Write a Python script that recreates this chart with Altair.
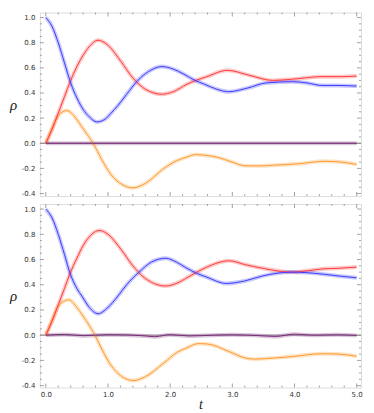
import altair as alt
import pandas as pd
import numpy as np

# ---------------- data ----------------
# top panel
top_blue_t = [0, 0.1, 0.2, 0.3, 0.4, 0.5, 0.6, 0.7, 0.82, 0.95, 1.05, 1.16, 1.3, 1.48, 1.65, 1.87, 2.05, 2.22, 2.4, 2.55, 2.75, 2.94, 3.25, 3.54, 3.97, 4.2, 4.44, 4.7, 5.0]
top_blue_v = [1.0, 0.93, 0.80, 0.64, 0.48, 0.36, 0.27, 0.21, 0.17, 0.19, 0.24, 0.30, 0.39, 0.50, 0.57, 0.61, 0.59, 0.55, 0.50, 0.47, 0.43, 0.41, 0.44, 0.48, 0.49, 0.48, 0.46, 0.46, 0.455]
top_red_t = [0, 0.1, 0.2, 0.3, 0.4, 0.5, 0.6, 0.7, 0.84, 1.0, 1.21, 1.4, 1.6, 1.87, 2.05, 2.27, 2.59, 2.92, 3.28, 3.65, 3.97, 4.44, 4.75, 5.0]
top_red_v = [0, 0.11, 0.24, 0.37, 0.50, 0.61, 0.70, 0.77, 0.82, 0.78, 0.65, 0.52, 0.43, 0.39, 0.41, 0.47, 0.53, 0.58, 0.54, 0.50, 0.51, 0.53, 0.53, 0.535]
top_orange_t = [0, 0.1, 0.2, 0.34, 0.45, 0.58, 0.76, 0.9, 1.05, 1.2, 1.4, 1.6, 1.9, 2.1, 2.27, 2.41, 2.55, 2.75, 3.0, 3.22, 3.45, 3.65, 4.07, 4.49, 4.75, 5.0]
top_orange_v = [0, 0.12, 0.22, 0.26, 0.22, 0.13, 0.0, -0.13, -0.25, -0.32, -0.355, -0.32, -0.20, -0.14, -0.11, -0.09, -0.095, -0.11, -0.15, -0.18, -0.18, -0.175, -0.163, -0.143, -0.15, -0.168]
top_purple_t = [0, 5.0]
top_purple_v = [0, 0]

# bottom panel
bot_blue_t = [0, 0.1, 0.2, 0.3, 0.39, 0.5, 0.58, 0.7, 0.84, 1.0, 1.16, 1.3, 1.5, 1.7, 1.93, 2.1, 2.27, 2.43, 2.59, 2.9, 3.2, 3.49, 3.96, 4.44, 4.7, 5.0]
bot_blue_v = [1.0, 0.93, 0.80, 0.64, 0.49, 0.37, 0.31, 0.22, 0.17, 0.22, 0.31, 0.40, 0.50, 0.58, 0.61, 0.58, 0.53, 0.49, 0.46, 0.41, 0.43, 0.47, 0.50, 0.485, 0.47, 0.455]
bot_red_t = [0, 0.1, 0.2, 0.3, 0.39, 0.5, 0.6, 0.7, 0.86, 1.0, 1.21, 1.4, 1.6, 1.93, 2.1, 2.27, 2.43, 2.59, 2.95, 3.2, 3.49, 3.96, 4.2, 4.44, 4.7, 5.0]
bot_red_v = [0, 0.11, 0.24, 0.37, 0.49, 0.61, 0.71, 0.78, 0.83, 0.80, 0.68, 0.55, 0.45, 0.39, 0.41, 0.455, 0.50, 0.54, 0.59, 0.56, 0.53, 0.50, 0.51, 0.525, 0.53, 0.54]
bot_orange_t = [0, 0.1, 0.2, 0.37, 0.5, 0.6, 0.79, 0.9, 1.05, 1.2, 1.41, 1.6, 1.9, 2.1, 2.27, 2.45, 2.6, 2.95, 3.2, 3.38, 3.7, 3.96, 4.44, 4.7, 5.0]
bot_orange_v = [0, 0.12, 0.23, 0.28, 0.22, 0.15, 0.0, -0.11, -0.24, -0.32, -0.36, -0.33, -0.22, -0.14, -0.10, -0.067, -0.07, -0.13, -0.18, -0.19, -0.18, -0.17, -0.147, -0.15, -0.167]
bot_purple_t = [0, 0.3, 0.6, 1.0, 1.3, 1.6, 1.75, 2.0, 2.3, 2.7, 3.0, 3.4, 3.7, 4.0, 4.3, 4.7, 5.0]
bot_purple_v = [0, 0.006, -0.004, 0.004, 0.002, -0.006, -0.012, 0.004, -0.006, 0.0, 0.003, -0.003, -0.01, 0.008, 0.0, 0.003, -0.002]

# ticks
x_major = [0, 1, 2, 3, 4, 5]
x_minor = [0.2, 0.4, 0.6, 0.8, 1.2, 1.4, 1.6, 1.8, 2.2, 2.4, 2.6, 2.8, 3.2, 3.4, 3.6, 3.8, 4.2, 4.4, 4.6, 4.8]
y_major = [-0.4, -0.2, 0.0, 0.2, 0.4, 0.6, 0.8, 1.0]
y_minor = [round(v, 2) for v in np.arange(-0.4, 1.0001, 0.05) if round(v, 2) not in y_major]

series_order = ["orange", "red", "blue", "purple"]
line_colors = ["#ff9a30", "#ff3a3a", "#3a3aff", "#7a2a7a"]

W = 322
H = 184
GRAY = "#8a8a8a"
LABEL_EXPR = "datum.value < 0 ? '-' + format(-datum.value, '.1f') : format(datum.value, '.1f')"


def make_df(parts):
    rows = []
    for name, ts, vs in parts:
        for t, v in zip(ts, vs):
            rows.append({"t": t, "v": v, "s": name})
    return pd.DataFrame(rows)


def panel(df, ydom, show_x):
    xs = alt.Scale(domain=[-0.095, 5.07], nice=False, zero=False)
    ys = alt.Scale(domain=ydom, nice=False, zero=False)
    color = alt.Color("s:N", scale=alt.Scale(domain=series_order, range=line_colors), legend=None)

    if show_x:
        xaxis = alt.Axis(values=x_major, labelExpr=LABEL_EXPR, ticks=False, domain=False, grid=False,
                         labelFontSize=7, labelColor="#333", labelFont="DejaVu Sans", labelPadding=3,
                         title="t", titleFont="Liberation Serif", titleFontStyle="italic",
                         titleFontWeight="normal", titleFontSize=14, titlePadding=0, titleColor="#222")
    else:
        xaxis = alt.Axis(values=x_major, labels=False, ticks=False, domain=False, grid=False, title=None)
    yaxis = alt.Axis(values=y_major, labelExpr=LABEL_EXPR, ticks=False, domain=False, grid=False,
                     labelFontSize=7, labelColor="#333", labelFont="DejaVu Sans", labelPadding=5,
                     title="ρ", titleAngle=0, titleX=-27, titleY=H / 2, titleAlign="center",
                     titleBaseline="middle", titleFont="Liberation Serif", titleFontStyle="italic",
                     titleFontWeight="normal", titleFontSize=15, titleColor="#222")

    X = lambda: alt.X("t:Q", scale=xs, axis=xaxis)
    Y = lambda: alt.Y("v:Q", scale=ys, axis=yaxis)

    base = alt.Chart(df)
    band = base.mark_line(strokeWidth=4, opacity=0.28, interpolate="monotone").encode(
        x=X(), y=Y(), color=color, order=alt.Order("t:Q"))
    line = base.mark_line(strokeWidth=1, interpolate="monotone").encode(
        x=X(), y=Y(), color=color, order=alt.Order("t:Q"))

    zero = alt.Chart(pd.DataFrame({"v": [0.0]})).mark_rule(color=GRAY, strokeWidth=1).encode(y=Y())

    layers = [zero]
    for vals, ln in [(y_major, 4), (y_minor, 2)]:
        d = alt.Chart(pd.DataFrame({"v": vals}))
        layers.append(d.mark_rule(color=GRAY, strokeWidth=0.8).encode(
            y=Y(), x=alt.value(0), x2=alt.value(ln)))
        layers.append(d.mark_rule(color=GRAY, strokeWidth=0.8).encode(
            y=Y(), x=alt.value(W), x2=alt.value(W - ln)))
    for vals, ln in [(x_major, 4), (x_minor, 2)]:
        d = alt.Chart(pd.DataFrame({"t": vals}))
        layers.append(d.mark_rule(color=GRAY, strokeWidth=0.8).encode(
            x=X(), y=alt.value(H), y2=alt.value(H - ln)))
        layers.append(d.mark_rule(color=GRAY, strokeWidth=0.8).encode(
            x=X(), y=alt.value(0), y2=alt.value(ln)))

    return alt.layer(zero, band, line, *layers[1:]).properties(width=W, height=H)


top_df = make_df([("orange", top_orange_t, top_orange_v), ("red", top_red_t, top_red_v),
                  ("blue", top_blue_t, top_blue_v), ("purple", top_purple_t, top_purple_v)])
bot_df = make_df([("orange", bot_orange_t, bot_orange_v), ("red", bot_red_t, bot_red_v),
                  ("blue", bot_blue_t, bot_blue_v), ("purple", bot_purple_t, bot_purple_v)])

top = panel(top_df, [-0.42, 1.04], False)
bot = panel(bot_df, [-0.415, 1.04], True)

chart = alt.vconcat(top, bot, spacing=3).properties(padding=0).configure_view(
    stroke=GRAY, strokeWidth=1).configure(background="white")

chart.save("out.html", embed_options={"renderer": "svg", "actions": False})
